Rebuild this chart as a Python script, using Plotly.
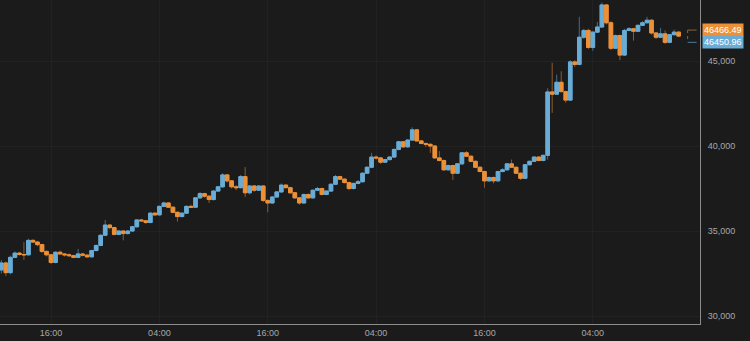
import numpy as np
import pandas as pd
import plotly.graph_objects as go

# 30-minute candles
times = pd.date_range("2021-02-05 10:30", periods=151, freq="30min")

opens = [
    32710, 33120, 32550, 33450, 33700, 33620, 33600, 34450, 34350, 34200,
    33800, 33600, 33150, 33750, 33650, 33600, 33550, 33450, 33650, 33580,
    33480, 33850, 34150, 34750, 35350, 35200, 34800, 35000, 34850, 35000,
    35250, 35650, 35600, 35500, 36050, 35950, 36450, 36650, 36400, 36100,
    35850, 36050, 36450, 36400, 36950, 37200, 37050, 36850, 37350, 37600,
    38300, 37950, 37600, 37550, 38200, 37250, 37650, 37400, 37650, 36800,
    36650, 37000, 37300, 37700, 37550, 37250, 36950, 36650, 37150, 36950,
    37400, 37500, 37150, 37350, 37750, 38200, 38050, 37850, 37500, 37800,
    37900, 38400, 38750, 39350, 39300, 39050, 39200, 39350, 39800, 40250,
    39950, 40350, 40950, 40300, 40150, 40100, 40000, 39300, 39150, 38600,
    38850, 38400, 38950, 39600, 39400, 39100, 38750, 38500, 37950, 38150,
    37950, 38500, 38600, 38950, 38750, 38400, 38100, 38900, 39100, 39350,
    39150, 39450, 43180, 43050, 43750, 43200, 42700, 44950, 44800, 46400,
    46800, 45800, 46700, 47000, 48300, 47250, 45750, 46500, 45350, 46800,
    46900, 46750, 47100, 47250, 47400, 46650, 46400, 46600, 46100, 46550,
    46700,
]
closes = [
    33120, 32550, 33450, 33700, 33620, 33600, 34450, 34350, 34200, 33800,
    33600, 33150, 33750, 33650, 33600, 33550, 33450, 33650, 33580, 33480,
    33850, 34150, 34750, 35350, 35200, 34800, 35000, 34850, 35000, 35250,
    35650, 35600, 35500, 36050, 35950, 36450, 36650, 36400, 36100, 35850,
    36050, 36450, 36400, 36950, 37200, 37050, 36850, 37350, 37600, 38300,
    37950, 37600, 37550, 38200, 37250, 37650, 37400, 37650, 36800, 36650,
    37000, 37300, 37700, 37550, 37250, 36950, 36650, 37150, 36950, 37400,
    37500, 37150, 37350, 37750, 38200, 38050, 37850, 37500, 37800, 37900,
    38400, 38750, 39350, 39300, 39050, 39200, 39350, 39800, 40250, 39950,
    40350, 40950, 40300, 40150, 40100, 40000, 39300, 39150, 38600, 38850,
    38400, 38950, 39600, 39400, 39100, 38750, 38500, 37950, 38150, 37950,
    38500, 38600, 38950, 38750, 38400, 38100, 38900, 39100, 39350, 39150,
    39450, 43180, 43050, 43750, 43200, 42700, 44950, 44800, 46400, 46800,
    45800, 46700, 47000, 48300, 47250, 45750, 46500, 45350, 46800, 46900,
    46750, 47100, 47250, 47400, 46650, 46400, 46600, 46100, 46550, 46700,
    46466.49,
]
highs = [
    33300, 33200, 33550, 33800, 33780, 34350, 34550, 34520, 34420, 34250,
    33850, 33650, 33800, 33850, 33700, 33680, 33600, 33950, 33700, 33620,
    33900, 34200, 34800, 35650, 35400, 35250, 35050, 35050, 35050, 35300,
    35700, 35720, 35650, 36100, 36100, 36500, 36720, 36700, 36450, 36150,
    36100, 36500, 36550, 37000, 37300, 37250, 37100, 37400, 37650, 38400,
    38350, 38000, 37700, 38300, 38760, 37700, 37700, 37700, 37700, 36850,
    37050, 37350, 37800, 37750, 37600, 37300, 37000, 37200, 37200, 37450,
    37600, 37550, 37400, 37800, 38300, 38250, 38100, 37900, 37850, 38000,
    38450, 38800, 39600, 39450, 39350, 39250, 39400, 39850, 40300, 40300,
    40400, 41100, 41000, 40350, 40200, 40150, 40050, 39700, 39200, 38900,
    38900, 39000, 39650, 39700, 39450, 39150, 38800, 38550, 38200, 38200,
    38550, 38700, 39000, 39200, 38800, 38450, 38950, 39150, 39400, 39400,
    39500, 43400, 44900, 44200, 44400, 43250, 45050, 45050, 47600, 46900,
    46900, 46750, 47300, 48450, 48350, 47350, 46550, 46550, 46900, 47000,
    46950, 47150, 47350, 47600, 47450, 46700, 46950, 46800, 46600, 46850,
    46750,
]
lows = [
    32500, 32350, 32450, 33400, 33550, 33300, 33550, 34300, 34100, 33700,
    33500, 33050, 33100, 33600, 33500, 33480, 33400, 33400, 33500, 33420,
    33450, 33800, 34100, 34700, 35100, 34750, 34750, 34450, 34800, 34950,
    35200, 35550, 35420, 35450, 35900, 35900, 36400, 36350, 36050, 35550,
    35800, 36000, 36350, 36350, 36900, 36950, 36650, 36800, 37300, 37550,
    37850, 37500, 37400, 37500, 37000, 37150, 37300, 37350, 36700, 36100,
    36600, 36950, 37250, 37500, 37200, 36900, 36550, 36600, 36900, 36900,
    37350, 37100, 37100, 37300, 37700, 38000, 37800, 37400, 37450, 37750,
    37850, 38350, 38700, 39200, 38950, 39000, 39150, 39300, 39750, 39900,
    39900, 40300, 40250, 40100, 39950, 39600, 39250, 39100, 38550, 38550,
    38000, 38350, 38900, 39350, 39050, 38700, 38450, 37550, 37900, 37800,
    37900, 38450, 38550, 38700, 38350, 38000, 38050, 38850, 39050, 39100,
    39100, 39200, 41950, 43000, 43150, 42550, 42650, 44650, 44750, 46300,
    45700, 45600, 46650, 46950, 47150, 45650, 45700, 45050, 45300, 46750,
    46200, 46700, 47050, 47200, 46550, 46300, 46350, 46000, 46050, 46500,
    46400,
]

y_ticks = [30000, 35000, 40000, 45000]
last_price = 46466.49
alt_price = 46450.96

UP_BODY, DOWN_BODY = "#69acd6", "#ec9138"
UP_WICK, DOWN_WICK = "#3f6d8a", "#8e5a2c"
BG = "#1b1b1b"
GRID = "#222222"
AXIS = "#8c8c8c"
TXT = "#a8a8a8"

o = np.array(opens, dtype=float)
c = np.array(closes, dtype=float)
body_hi = np.maximum(o, c)
body_lo = np.minimum(o, c)

fig = go.Figure()
# wicks (full range, darker tone)
fig.add_trace(go.Candlestick(
    x=times, open=opens, high=highs, low=lows, close=closes,
    increasing=dict(line=dict(color=UP_WICK, width=1), fillcolor=UP_WICK),
    decreasing=dict(line=dict(color=DOWN_WICK, width=1), fillcolor=DOWN_WICK),
    whiskerwidth=0, showlegend=False, hoverinfo="skip",
))
# bodies (bright tone)
fig.add_trace(go.Candlestick(
    x=times, open=opens, high=body_hi, low=body_lo, close=closes,
    increasing=dict(line=dict(color=UP_BODY, width=1), fillcolor=UP_BODY),
    decreasing=dict(line=dict(color=DOWN_BODY, width=1), fillcolor=DOWN_BODY),
    whiskerwidth=0, showlegend=False, hoverinfo="skip",
))

last_t = times[-1]
fig.add_shape(type="line", xref="x", yref="y", xsizemode="pixel", ysizemode="pixel",
              xanchor=last_t, x0=9, x1=22, yanchor=last_price, y0=6, y1=6,
              line=dict(color="#8a6238", width=1, dash="dash"))
fig.add_shape(type="line", xref="x", yref="y", xsizemode="pixel", ysizemode="pixel",
              xanchor=last_t, x0=9, x1=22, yanchor=alt_price, y0=-6, y1=-6,
              line=dict(color="#4f7a94", width=1, dash="dash"))
fig.add_shape(type="line", xref="x", yref="y", xsizemode="pixel", ysizemode="pixel",
              xanchor=last_t, x0=9, x1=9, yanchor=last_price, y0=6, y1=-6,
              line=dict(color="#6f6a62", width=1, dash="dot"))

fig.add_annotation(xref="paper", x=1, xanchor="left", xshift=2, yref="y", y=last_price,
                   yshift=6, text=f"{last_price:.2f}", showarrow=False,
                   bgcolor=DOWN_BODY, font=dict(color="white", size=9), borderpad=1)
fig.add_annotation(xref="paper", x=1, xanchor="left", xshift=2, yref="y", y=alt_price,
                   yshift=-6, text=f"{alt_price:.2f}", showarrow=False,
                   bgcolor=UP_BODY, font=dict(color="white", size=9), borderpad=1)

fig.update_layout(
    width=750, height=341,
    margin=dict(l=0, r=50, t=0, b=17),
    paper_bgcolor=BG, plot_bgcolor=BG,
    font=dict(family="Helvetica Neue, Arial, Liberation Sans, sans-serif", size=9, color=TXT),
    boxgap=0.2, boxgroupgap=0,
    xaxis=dict(
        type="date", range=["2021-02-05 10:21", "2021-02-08 15:52"],
        rangeslider=dict(visible=False),
        tickformat="%H:%M", dtick=12 * 3600 * 1000, tick0="2021-02-05 04:00",
        showgrid=True, gridcolor=GRID, gridwidth=1,
        showline=True, linecolor=AXIS, linewidth=1,
        ticks="", zeroline=False, tickfont=dict(size=9, color=TXT),
    ),
    yaxis=dict(
        side="right", range=[29530, 48590],
        tickvals=y_ticks, tickformat=",d",
        showgrid=True, gridcolor=GRID, gridwidth=1,
        showline=True, linecolor=AXIS, linewidth=1,
        ticks="", zeroline=False, tickfont=dict(size=9, color=TXT),
        ticklabelstandoff=5,
    ),
)

fig.write_html("out.html")
